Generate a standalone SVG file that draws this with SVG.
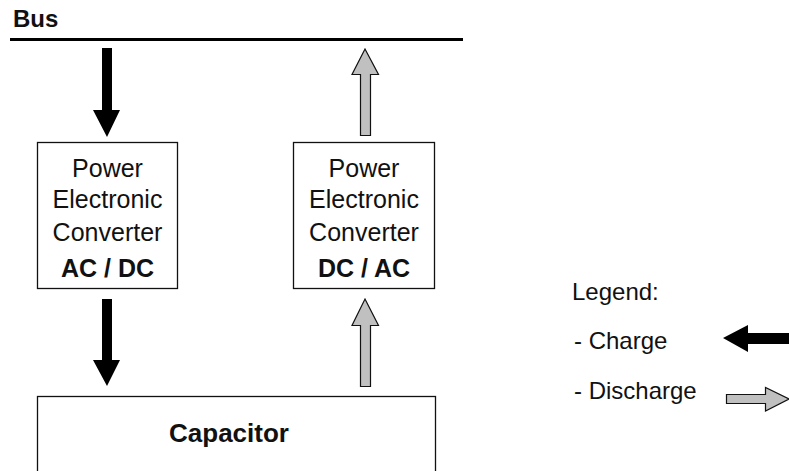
<svg xmlns="http://www.w3.org/2000/svg" width="789" height="471" viewBox="0 0 789 471">
<style>
.t{font-family:"Liberation Sans",Arial,sans-serif;fill:#111}
.box{fill:#fff;stroke:#111;stroke-width:1.3}
.lbl{font-size:25px;text-anchor:middle}
.b{font-weight:bold}
.charge{fill:#000}
.dis{fill:#c0c0c0;stroke:#111;stroke-width:1.2;stroke-linejoin:miter}
.leg{font-size:24px}
</style>
<rect width="789" height="471" fill="#fff"/>
<g id="bus">
<rect x="10" y="38" width="453" height="3" fill="#000"/>
<text class="t b" x="13" y="27" font-size="24">Bus</text>
</g>
<g id="converter-acdc">
<rect class="box" x="37.5" y="142.5" width="140" height="146"/>
<text class="t lbl" x="107.5" y="177">Power</text>
<text class="t lbl" x="107.5" y="208">Electronic</text>
<text class="t lbl" x="107.5" y="241">Converter</text>
<text class="t lbl b" x="107.5" y="277" font-size="26">AC / DC</text>
</g>
<g id="converter-dcac">
<rect class="box" x="293.5" y="142.5" width="141" height="146"/>
<text class="t lbl" x="364" y="177">Power</text>
<text class="t lbl" x="364" y="208">Electronic</text>
<text class="t lbl" x="364" y="241">Converter</text>
<text class="t lbl b" x="364" y="277" font-size="26">DC / AC</text>
</g>
<g id="capacitor">
<rect class="box" x="37.5" y="396.5" width="398" height="90"/>
<text class="t b" x="229" y="442" font-size="26" text-anchor="middle">Capacitor</text>
</g>
<g id="connectors">
<path class="charge" d="M102,48 H112 V110 H120 L107,137 L93,110 H102 Z"/>
<path class="charge" d="M102,299 H112 V360 H120 L107,386 L93,360 H102 Z"/>
<path class="dis" d="M365,49 L378.5,74.5 H370.5 V135.5 H360.5 V74.5 H352 Z"/>
<path class="dis" d="M365,299 L378.5,325.5 H370.5 V386.5 H360.5 V325.5 H352 Z"/>
</g>
<g id="legend">
<text class="t leg" x="572" y="300">Legend:</text>
<text class="t leg" x="574" y="349">- Charge</text>
<text class="t leg" x="574" y="399">- Discharge</text>
<path class="charge" d="M723,338 L748,325 V333 H792 V344 H748 V352 Z"/>
<path class="dis" d="M726.5,394.5 H765.5 V387.5 L789,399 L765.5,411 V403.5 H726.5 Z"/>
</g>
</svg>
